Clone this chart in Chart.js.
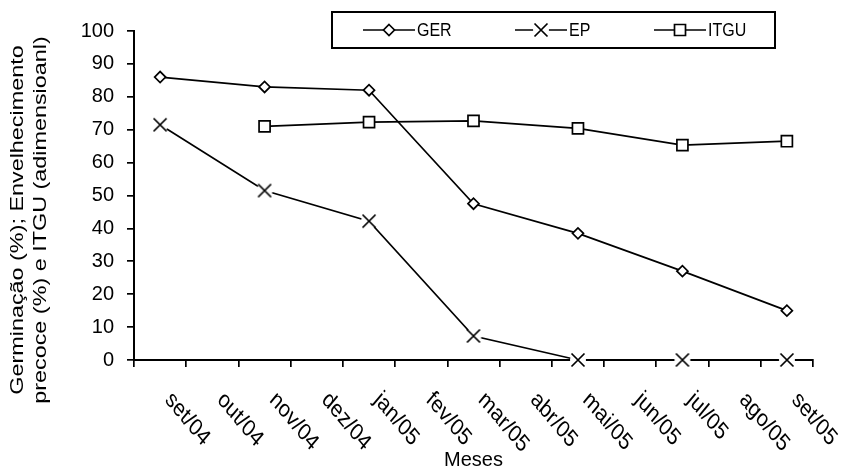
<!DOCTYPE html>
<html>
<head>
<meta charset="utf-8">
<script src="https://cdn.jsdelivr.net/npm/chart.js@4/dist/chart.umd.min.js"></script>
<style>
  html, body { margin: 0; padding: 0; background: #ffffff; }
  canvas { display: block; }
</style>
</head>
<body>
<canvas id="c" width="849" height="472"></canvas>
<script>
// ---- data ----
const months = ["set/04","out/04","nov/04","dez/04","jan/05","fev/05","mar/05","abr/05","mai/05","jun/05","jul/05","ago/05","set/05"];
const gerValues  = [86, null, 83, null, 82, null, 47.5, null, 38.5, null, 27, null, 15];
const epValues   = [71.5, null, 51.5, null, 42.2, null, 7.3, null, 0, null, 0, null, 0];
const itguValues = [null, null, 71, null, 72.3, null, 72.7, null, 70.4, null, 65.3, null, 66.5];
const seriesNames = ["GER", "EP", "ITGU"];
const yTitle = ["Germinação (%); Envelhecimento", "precoce (%) e ITGU (adimensioanl)"];
const xTitle = "Meses";

const FONT = '"Liberation Sans", Arial, sans-serif';
const STRETCH = 1.2;

// X marker with white halo
function makeCross() {
  const c = document.createElement('canvas');
  c.width = 18; c.height = 18;
  const g = c.getContext('2d');
  g.fillStyle = '#fff';
  g.beginPath(); g.arc(9, 9, 8, 0, Math.PI * 2); g.fill();
  g.strokeStyle = '#000'; g.lineWidth = 1.7;
  g.beginPath();
  g.moveTo(9 - 6.5, 9 - 6.5); g.lineTo(9 + 6.5, 9 + 6.5);
  g.moveTo(9 + 6.5, 9 - 6.5); g.lineTo(9 - 6.5, 9 + 6.5);
  g.stroke();
  return c;
}
const crossImg = makeCross();

function drawMarker(ctx, style, x, y) {
  ctx.save();
  ctx.strokeStyle = '#000'; ctx.fillStyle = '#fff'; ctx.lineWidth = 1.7;
  if (style === 'diamond') {
    const r = 5.5;
    ctx.beginPath(); ctx.moveTo(x, y - r); ctx.lineTo(x + r, y); ctx.lineTo(x, y + r); ctx.lineTo(x - r, y); ctx.closePath();
    ctx.fill(); ctx.stroke();
  } else if (style === 'square') {
    const h = 5.5;
    ctx.beginPath(); ctx.rect(x - h, y - h, 2 * h, 2 * h); ctx.fill(); ctx.stroke();
  } else {
    ctx.drawImage(crossImg, x - 9, y - 9);
  }
  ctx.restore();
}

// rotated month labels under the category axis
const xLabelPlugin = {
  id: 'xLabels',
  afterDraw(chart) {
    const ctx = chart.ctx, xs = chart.scales.x;
    ctx.save();
    ctx.font = '20px ' + FONT;
    ctx.fillStyle = '#000';
    ctx.textAlign = 'left';
    ctx.textBaseline = 'middle';
    months.forEach((m, i) => {
      const px = xs.getPixelForValue(i);
      ctx.save();
      ctx.translate(px + 8, xs.top + 36);
      ctx.scale(1, STRETCH);
      ctx.rotate(Math.PI / 4);
      ctx.fillText(m, 0, 0);
      ctx.restore();
    });
    ctx.restore();
  }
};

// vertical axis title (two lines)
const yTitlePlugin = {
  id: 'yTitle',
  afterDraw(chart) {
    const ctx = chart.ctx;
    ctx.save();
    ctx.font = '19px ' + FONT;
    ctx.fillStyle = '#000';
    ctx.textAlign = 'center';
    ctx.textBaseline = 'middle';
    const xs = [18, 41];
    yTitle.forEach((line, i) => {
      ctx.save();
      ctx.translate(xs[i], 220);
      ctx.rotate(-Math.PI / 2);
      ctx.scale(1.23, 1);
      ctx.fillText(line, 0, 0);
      ctx.restore();
    });
    ctx.restore();
  }
};

const legendPlugin = {
  id: 'boxLegend',
  afterDraw(chart) {
    const ctx = chart.ctx;
    const box = { l: 332, t: 12, r: 775, b: 48 };
    ctx.save();
    ctx.strokeStyle = '#000'; ctx.lineWidth = 2;
    ctx.strokeRect(box.l, box.t, box.r - box.l, box.b - box.t);
    const cy = (box.t + box.b) / 2;
    const items = [
      { x0: 363, style: 'diamond' },
      { x0: 515, style: 'cross' },
      { x0: 654, style: 'square' }
    ];
    ctx.font = '16px ' + FONT;
    ctx.textBaseline = 'middle';
    ctx.textAlign = 'left';
    items.forEach((it, i) => {
      ctx.strokeStyle = '#000'; ctx.lineWidth = 1.7;
      ctx.beginPath(); ctx.moveTo(it.x0, cy); ctx.lineTo(it.x0 + 52, cy); ctx.stroke();
      drawMarker(ctx, it.style, it.x0 + 26, cy);
      ctx.fillStyle = '#000';
      ctx.save();
      ctx.translate(it.x0 + 54, cy + 1);
      ctx.scale(1, 1.1);
      ctx.fillText(chart.data.datasets[i].label, 0, 0);
      ctx.restore();
    });
    ctx.restore();
  }
};

const common = { borderColor: '#000', borderWidth: 1.7, pointBorderColor: '#000', pointBackgroundColor: '#fff', pointBorderWidth: 1.7, spanGaps: true, clip: false, tension: 0 };

new Chart(document.getElementById('c'), {
  type: 'line',
  data: {
    labels: months,
    datasets: [
      Object.assign({ label: seriesNames[0], data: gerValues, pointStyle: 'rectRot', pointRadius: 5.5 }, common),
      Object.assign({ label: seriesNames[1], data: epValues, pointStyle: crossImg, pointRadius: 9 }, common),
      Object.assign({ label: seriesNames[2], data: itguValues, pointStyle: 'rect', pointRadius: 7.8 }, common)
    ]
  },
  options: {
    responsive: false,
    animation: false,
    devicePixelRatio: 1,
    layout: { padding: { top: 31, right: 36, left: 0, bottom: 0 } },
    plugins: { legend: { display: false }, tooltip: { enabled: false } },
    scales: {
      x: {
        type: 'category',
        offset: true,
        grid: { offset: true, drawOnChartArea: false, drawTicks: true, tickLength: 7, color: '#000', lineWidth: 1.7 },
        border: { display: true, color: '#000', width: 2 },
        ticks: { display: false },
        title: { display: true, text: xTitle, color: '#000', font: { family: FONT, size: 20 }, padding: { top: 0, bottom: 0 } },
        afterFit(s) { s.height = 112; }
      },
      y: {
        min: 0, max: 100,
        ticks: { stepSize: 10, color: '#000', font: { family: FONT, size: 20 }, padding: 13 },
        grid: { drawOnChartArea: false, drawTicks: true, tickLength: 7, color: '#000', lineWidth: 1.7 },
        border: { display: true, color: '#000', width: 2 },
        title: { display: false },
        afterFit(s) { s.width = 134; }
      }
    }
  },
  plugins: [xLabelPlugin, yTitlePlugin, legendPlugin]
});
</script>
</body>
</html>
